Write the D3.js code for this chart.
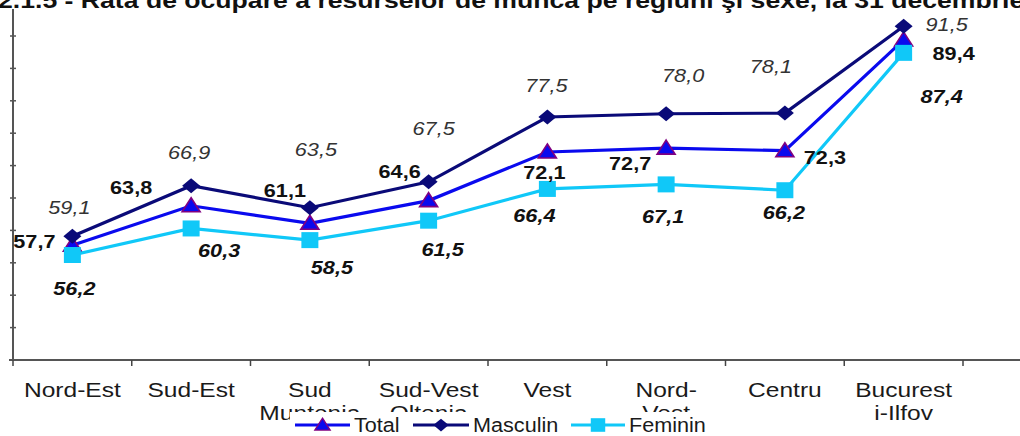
<!DOCTYPE html>
<html lang="ro">
<head>
<meta charset="UTF-8">
<title>Rata de ocupare</title>
<script src="https://cdn.jsdelivr.net/npm/d3@7"></script>
<style>
  html, body { margin: 0; padding: 0; background: #fff; overflow: hidden; }
  svg { display: block; font-family: Arial, "Liberation Sans", sans-serif; }
</style>
</head>
<body>
<div id="box"></div>
<script>
// date
const categories = ["Nord-Est", "Sud-Est", "Sud Muntenia", "Sud-Vest Oltenia", "Vest", "Nord-Vest", "Centru", "Bucuresti-Ilfov"];
const tickLines = [["Nord-Est"], ["Sud-Est"], ["Sud", "Muntenia"], ["Sud-Vest", "Oltenia"], ["Vest"], ["Nord-", "Vest"], ["Centru"], ["Bucurest", "i-Ilfov"]];
const total = [57.7, 63.8, 61.1, 64.6, 72.1, 72.7, 72.3, 89.4];
const masculin = [59.1, 66.9, 63.5, 67.5, 77.5, 78.0, 78.1, 91.5];
const feminin = [56.2, 60.3, 58.5, 61.5, 66.4, 67.1, 66.2, 87.4];
const yTicks = [40, 45, 50, 55, 60, 65, 70, 75, 80, 85, 90, 95];
const title = "2.1.5 - Rata de ocupare a resurselor de muncă pe regiuni şi sexe, la 31 decembrie";

// unde stau etichetele fata de punct (dx, dy)
const offTotal = [[-38, -4], [-60, -18], [-25, -33], [-29, -29], [-3, 21], [-36, 15], [40, 7], [50, 14]];
const offMasc = [[-3, -29], [-2, -33], [6, -58], [5, -53], [-1, -31], [17, -38], [-14, -47], [43, -2]];
const offFem = [[2, 33], [28, 22], [22, 27], [14, 29], [-13, 27], [-3, 32], [-1, 22], [38, 44]];

const width = 1020, height = 436;
const left = 13, right = 963, bottom = 360;
const sx = 1.17; // textul e putin latit

const ro = d3.formatLocale({ decimal: ",", thousands: ".", grouping: [3], currency: ["", " lei"] });
const fmt = ro.format(".1f");

const x = d3.scaleBand().domain(categories).range([left, right]).padding(0);
const y = d3.scaleLinear().domain([40, 95]).range([bottom, 3.6]);
const cx = c => x(c) + x.bandwidth() / 2;

const svg = d3.select("#box").append("svg")
  .attr("width", width).attr("height", height);

// titlu (taiat sus)
svg.append("text")
  .attr("transform", `translate(-2,8) scale(1.21,1)`)
  .attr("font-size", 22).attr("font-weight", "bold").attr("fill", "#111")
  .text(title);

// axa Y
svg.append("line")
  .attr("x1", left).attr("x2", left).attr("y1", 9).attr("y2", bottom)
  .attr("stroke", "#555").attr("stroke-width", 2);
svg.selectAll(".ytick").data(yTicks.filter(t => y(t) > 9 && t > 40)).enter()
  .append("line")
  .attr("x1", left - 3).attr("x2", left + 3)
  .attr("y1", d => y(d)).attr("y2", d => y(d))
  .attr("stroke", "#555").attr("stroke-width", 1.5);

// axa X
svg.append("line")
  .attr("x1", left - 4).attr("x2", width).attr("y1", bottom).attr("y2", bottom)
  .attr("stroke", "#555").attr("stroke-width", 2);
const edges = categories.map(c => x(c)).concat([x.range()[1]]);
svg.selectAll(".xtick").data(edges).enter()
  .append("line")
  .attr("x1", d => d).attr("x2", d => d)
  .attr("y1", bottom).attr("y2", bottom + 6)
  .attr("stroke", "#444").attr("stroke-width", 1.5);

const xl = svg.selectAll(".xlab").data(categories).enter()
  .append("text")
  .attr("transform", c => `translate(${cx(c)},0) scale(${sx},1)`)
  .attr("text-anchor", "middle").attr("font-size", 21).attr("fill", "#1a1a1a");
xl.selectAll("tspan").data((c, i) => tickLines[i]).enter()
  .append("tspan").attr("x", 0).attr("y", (d, i) => 397 + i * 23).text(d => d);

// simboluri
const shapes = {
  tri: "M0,-8L9,6L-9,6Z",
  dia: "M0,-7.5L9,0L0,7.5L-9,0Z",
  sq: "M-8.5,-8L8.5,-8L8.5,8L-8.5,8Z"
};

const series = [
  { name: "Total", vals: total, color: "#0a0aee", shape: "tri", fill: "#0a0aee", stroke: "#800080", off: offTotal, weight: "bold", style: "normal", tc: "#111" },
  { name: "Masculin", vals: masculin, color: "#0a0a78", shape: "dia", fill: "#0a0a78", stroke: "none", off: offMasc, weight: "normal", style: "italic", tc: "#333" },
  { name: "Feminin", vals: feminin, color: "#10c8f8", shape: "sq", fill: "#10c8f8", stroke: "none", off: offFem, weight: "bold", style: "italic", tc: "#111" }
];

const line = d3.line().x((d, i) => cx(categories[i])).y(d => y(d));

series.forEach(s => {
  const g = svg.append("g");
  g.append("path").datum(s.vals)
    .attr("d", line).attr("fill", "none")
    .attr("stroke", s.color).attr("stroke-width", 3.2);
  g.selectAll("path.m").data(s.vals).enter()
    .append("path").attr("class", "m")
    .attr("transform", (d, i) => `translate(${cx(categories[i])},${y(d)})`)
    .attr("d", shapes[s.shape])
    .attr("fill", s.fill).attr("stroke", s.stroke).attr("stroke-width", 1.6);
});

// etichete valori
series.forEach(s => {
  svg.selectAll(null).data(s.vals).enter()
    .append("text")
    .attr("transform", (d, i) => `translate(${cx(categories[i]) + s.off[i][0]},${y(d) + s.off[i][1]}) scale(${sx},1)`)
    .attr("text-anchor", "middle").attr("dy", "0.35em")
    .attr("font-size", 18.5).attr("font-weight", s.weight).attr("font-style", s.style)
    .attr("fill", s.tc)
    .text(d => fmt(d));
});

// legenda (acopera randul doi al etichetelor, ca in original)
const lg = svg.append("g");
lg.append("rect").attr("x", 290).attr("y", 412).attr("width", 422).attr("height", 24).attr("fill", "#fff");
const legPos = [[295, 354], [413, 473], [571, 629]];
series.forEach((s, i) => {
  const [lx, tx] = legPos[i];
  lg.append("line").attr("x1", lx).attr("x2", tx - 4).attr("y1", 425).attr("y2", 425)
    .attr("stroke", s.color).attr("stroke-width", 3.2);
  lg.append("path").attr("d", shapes[s.shape])
    .attr("transform", `translate(${(lx + tx - 4) / 2},425) scale(0.85)`)
    .attr("fill", s.fill).attr("stroke", s.stroke).attr("stroke-width", 1.6);
  lg.append("text").attr("transform", `translate(${tx},432) scale(1.03,1)`)
    .attr("font-size", 21).attr("fill", "#1a1a1a").text(s.name);
});
</script>
</body>
</html>
